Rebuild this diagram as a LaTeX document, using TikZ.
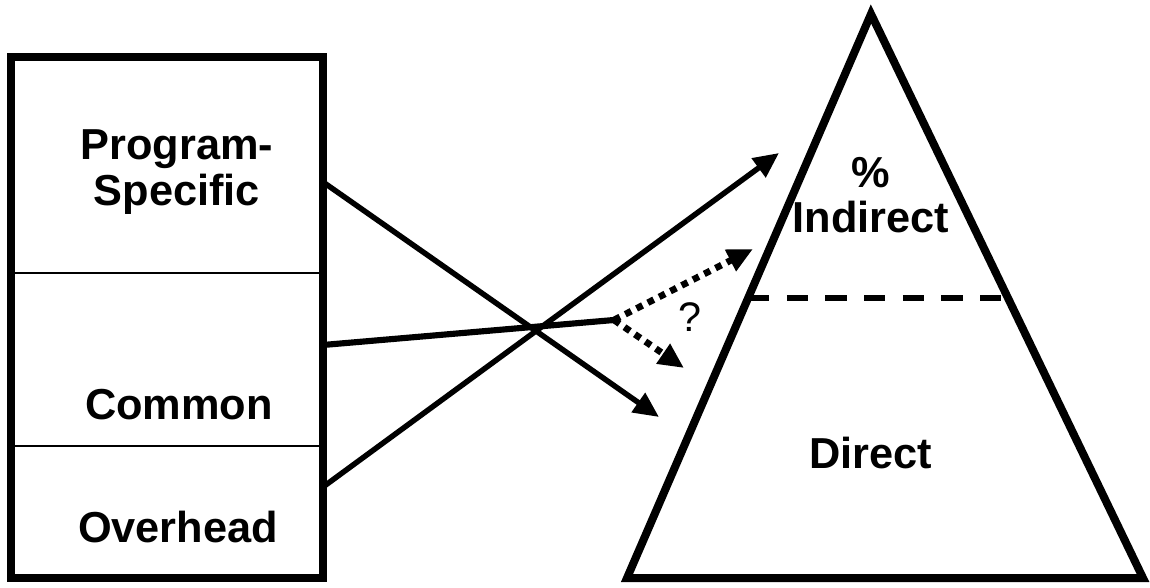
\documentclass[tikz,border=0pt]{standalone}
\usepackage{fontspec}
\setmainfont{Liberation Sans}
\usepackage{tikz}
\usetikzlibrary{arrows.meta,calc}

\begin{document}
\begin{tikzpicture}[
    x=0.75pt, y=-0.75pt,
    part_text/.style={font=\fontsize{32.5}{34}\selectfont\bfseries, align=center},
    frame/.style={draw, line width=6pt},
    divider/.style={draw, line width=1.5pt},
    line/.style={draw, line width=4.1pt, -{Triangle[length=19pt,width=17pt]}},
    share/.style={draw, line width=4.6pt, line cap=round},
    guess/.style={draw, line width=5pt, dash pattern=on 5pt off 4.5pt, -{Triangle[length=19pt,width=17pt]}},
    split/.style={draw, line width=4pt, dash pattern=on 16pt off 13pt}
]
\useasboundingbox (0,0) rectangle (1150,588);

% Cost pools
\draw[frame] (11,57) rectangle (323,578);
\draw[divider] (11,273) -- (323,273);
\draw[divider] (11,446) -- (323,446);
\node[part_text] (ps) at (177,172) {Program-\\Specific};
\node[part_text] (common) at (179,405) {Common};
\node[part_text] (overhead) at (178,527) {Overhead};

% Pyramid
\coordinate (apex) at (871,14);
\coordinate (bl) at (627,578);
\coordinate (br) at (1143,578);
\draw[frame, line join=miter] (apex) -- (bl) -- (br) -- cycle;
\draw[split] ($(apex)!0.5035!(bl)$) -- ($(apex)!0.5035!(br)$);
\node[part_text] (indirect) at (871,195) {\%\\Indirect};
\node[part_text] (direct) at (871,453) {Direct};

% Connections
\coordinate (ps_out) at (323,182);
\coordinate (common_out) at (323,345);
\coordinate (overhead_out) at (323,487);
\coordinate (junction) at (614,320);
\coordinate (to_direct) at (659,417);
\coordinate (to_indirect) at (779,153);
\coordinate (guess_up) at (753,249);
\coordinate (guess_down) at (684,368);

\path[line] (ps_out) -- (to_direct);
\path[line] (overhead_out) -- (to_indirect);
\path[share] (common_out) -- (junction);
\path[guess] (junction) -- (guess_up);
\path[guess] (junction) -- (guess_down);
\node[font=\fontsize{31}{33}\selectfont] (q) at (690,317) {?};

\end{tikzpicture}
\end{document}
